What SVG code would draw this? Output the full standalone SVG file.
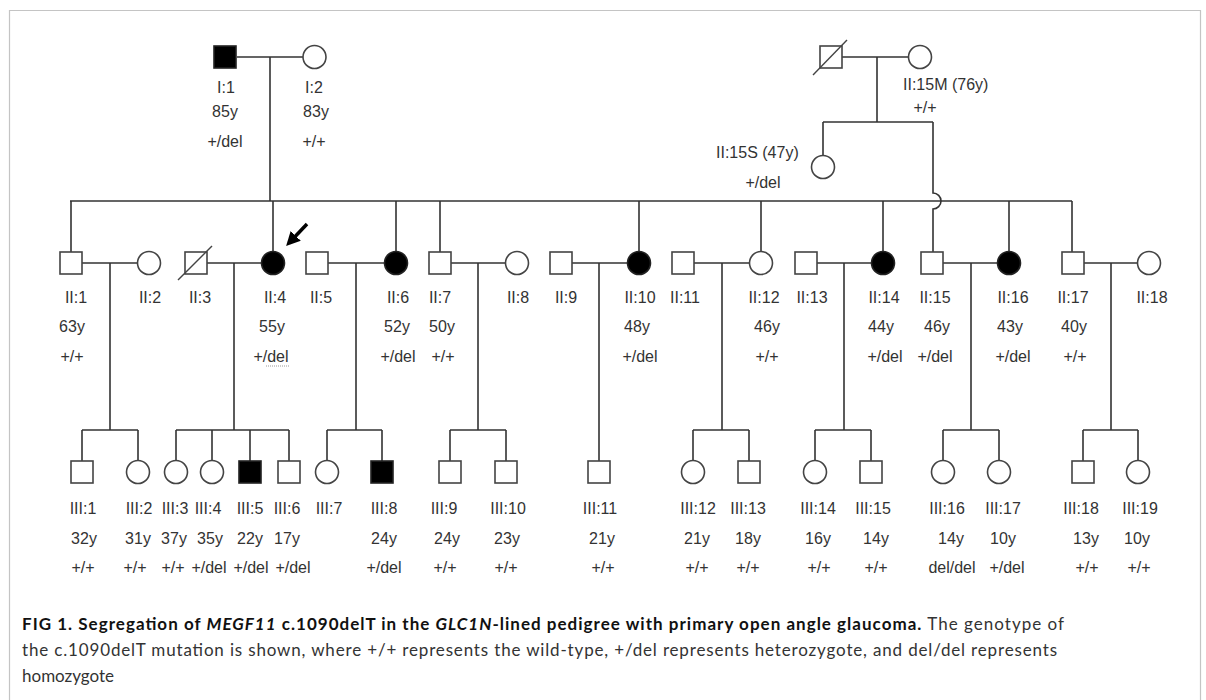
<svg xmlns="http://www.w3.org/2000/svg" width="1206" height="700" viewBox="0 0 1206 700">
<defs>
<style>
.ln{stroke:#333;stroke-width:1.6;fill:none}
.sh{stroke:#444;stroke-width:1.6;fill:#fff}
.af{stroke:#222;stroke-width:1.6;fill:#000}
.dx{stroke:#444;stroke-width:1.4}
.lb{font-family:"Liberation Sans",Arial,sans-serif;font-size:16px;fill:#333;text-anchor:middle}
.lbs{font-family:"Liberation Sans",Arial,sans-serif;font-size:16px;fill:#333}
.cap{font-family:Lato,"Liberation Sans",sans-serif;font-size:17px;fill:#333}
</style>
<marker id="ah" viewBox="0 0 10 10" refX="7" refY="5" markerWidth="4" markerHeight="4" orient="auto" markerUnits="strokeWidth">
<path d="M0,0 L10,5 L0,10 z" fill="#000"/>
</marker>
</defs>
<rect x="0" y="0" width="1206" height="700" fill="#fff"/>
<path d="M9.5,702 V10.5 H1200.5 V702" fill="none" stroke="#c4c4c4" stroke-width="1.2"/>

<g id="connectors">
<path class="ln" d="M237,57 H303 M270,57 V201"/>
<path class="ln" d="M842,57 H908 M877,57 V122 M823,122 H933 M823,122 V155.5"/>
<path class="ln" d="M933,122 V193 A8,8 0 0 1 933,209 V252"/>
<path class="ln" d="M70,201 H1072 M71,201 V252 M273,201 V251.5 M396,201 V251.5 M440,201 V252 M639,201 V251.5 M761,201 V251.5 M883,201 V251.5 M1009,201 V251.5 M1072,201 V252"/>
<path class="ln" d="M82,263 H137.5 M207,263 H261.5 M328,263 H384.5 M451,263 H505.5 M572,263 H627.5 M694,263 H749.5 M817,263 H871.5 M943,263 H997.5 M1084,263 H1137.5"/>
<path class="ln" d="M110,263 V430 M234,263 V430 M356,263 V430 M478,263 V430 M599,263 V461 M722,263 V430 M844,263 V430 M971,263 V430 M1111,263 V430"/>
<path class="ln" d="M82,430 H138 M176,430 H289 M327,430 H382 M450,430 H506 M693,430 H749 M815,430 H871 M943,430 H999 M1083,430 H1138"/>
<path class="ln" d="M82,430 V461 M138,430 V460.5 M176,430 V460.5 M212,430 V460.5 M250,430 V461 M289,430 V461 M327,430 V460.5 M382,430 V461 M450,430 V461 M506,430 V461 M693,430 V460.5 M749,430 V461 M815,430 V460.5 M871,430 V461 M943,430 V460.5 M999,430 V460.5 M1083,430 V461 M1138,430 V460.5"/>
</g>

<g id="I1"><rect class="af" x="214" y="46" width="22" height="22"/>
<text class="lb" x="226" y="93">I:1</text><text class="lb" x="225" y="117">85y</text><text class="lb" x="225" y="147">+/del</text></g>
<g id="I2"><circle class="sh" cx="314.5" cy="57" r="11.5"/>
<text class="lb" x="314" y="93">I:2</text><text class="lb" x="316" y="117">83y</text><text class="lb" x="314" y="147">+/+</text></g>
<g id="II15F"><rect class="sh" x="820" y="46" width="22" height="22"/><line class="dx" x1="813" y1="75" x2="847" y2="40"/></g>
<g id="II15M"><circle class="sh" cx="920" cy="57" r="11.5"/>
<text class="lbs" x="903" y="90">II:15M (76y)</text><text class="lb" x="925" y="113">+/+</text></g>
<g id="II15S"><circle class="sh" cx="823" cy="167" r="11.5"/>
<text class="lbs" x="716" y="158">II:15S (47y)</text><text class="lb" x="763" y="188">+/del</text></g>

<g id="II1"><rect class="sh" x="60" y="252" width="22" height="22"/>
<text class="lb" x="76" y="303">II:1</text><text class="lb" x="72" y="332">63y</text><text class="lb" x="72" y="362">+/+</text></g>
<g id="II2"><circle class="sh" cx="149" cy="263" r="11.5"/><text class="lb" x="150" y="303">II:2</text></g>
<g id="II3"><rect class="sh" x="185" y="252" width="22" height="22"/><line class="dx" x1="178" y1="280" x2="212" y2="246"/><text class="lb" x="200" y="303">II:3</text></g>
<g id="II4"><circle class="af" cx="273" cy="263" r="11.5"/>
<text class="lb" x="275" y="303">II:4</text><text class="lb" x="272" y="332">55y</text><text class="lb" x="271" y="362">+/del</text>
<line x1="266" y1="366" x2="290" y2="366" stroke="#999" stroke-width="1" stroke-dasharray="1,1"/>
<line x1="307" y1="224" x2="289" y2="243" stroke="#000" stroke-width="3.5" marker-end="url(#ah)"/></g>
<g id="II5"><rect class="sh" x="306" y="252" width="22" height="22"/><text class="lb" x="321" y="303">II:5</text></g>
<g id="II6"><circle class="af" cx="396" cy="263" r="11.5"/>
<text class="lb" x="398" y="303">II:6</text><text class="lb" x="397" y="332">52y</text><text class="lb" x="398" y="362">+/del</text></g>
<g id="II7"><rect class="sh" x="429" y="252" width="22" height="22"/>
<text class="lb" x="440" y="303">II:7</text><text class="lb" x="442" y="332">50y</text><text class="lb" x="443" y="362">+/+</text></g>
<g id="II8"><circle class="sh" cx="517" cy="263" r="11.5"/><text class="lb" x="518" y="303">II:8</text></g>
<g id="II9"><rect class="sh" x="550" y="252" width="22" height="22"/><text class="lb" x="566" y="303">II:9</text></g>
<g id="II10"><circle class="af" cx="639" cy="263" r="11.5"/>
<text class="lb" x="640" y="303">II:10</text><text class="lb" x="637" y="332">48y</text><text class="lb" x="640" y="362">+/del</text></g>
<g id="II11"><rect class="sh" x="672" y="252" width="22" height="22"/><text class="lb" x="685" y="303">II:11</text></g>
<g id="II12"><circle class="sh" cx="761" cy="263" r="11.5"/>
<text class="lb" x="764" y="303">II:12</text><text class="lb" x="767" y="332">46y</text><text class="lb" x="767" y="362">+/+</text></g>
<g id="II13"><rect class="sh" x="795" y="252" width="22" height="22"/><text class="lb" x="812" y="303">II:13</text></g>
<g id="II14"><circle class="af" cx="883" cy="263" r="11.5"/>
<text class="lb" x="884" y="303">II:14</text><text class="lb" x="881" y="332">44y</text><text class="lb" x="885" y="362">+/del</text></g>
<g id="II15"><rect class="sh" x="921" y="252" width="22" height="22"/>
<text class="lb" x="935" y="303">II:15</text><text class="lb" x="937" y="332">46y</text><text class="lb" x="935" y="362">+/del</text></g>
<g id="II16"><circle class="af" cx="1009" cy="263" r="11.5"/>
<text class="lb" x="1013" y="303">II:16</text><text class="lb" x="1010" y="332">43y</text><text class="lb" x="1013" y="362">+/del</text></g>
<g id="II17"><rect class="sh" x="1062" y="252" width="22" height="22"/>
<text class="lb" x="1073" y="303">II:17</text><text class="lb" x="1074" y="332">40y</text><text class="lb" x="1075" y="362">+/+</text></g>
<g id="II18"><circle class="sh" cx="1149" cy="263" r="11.5"/><text class="lb" x="1152" y="303">II:18</text></g>

<g id="III1"><rect class="sh" x="71" y="461" width="22" height="22"/>
<text class="lb" x="83" y="514">III:1</text><text class="lb" x="84" y="544">32y</text><text class="lb" x="83" y="573">+/+</text></g>
<g id="III2"><circle class="sh" cx="138" cy="472" r="11.5"/>
<text class="lb" x="139" y="514">III:2</text><text class="lb" x="138" y="544">31y</text><text class="lb" x="135" y="573">+/+</text></g>
<g id="III3"><circle class="sh" cx="176" cy="472" r="11.5"/>
<text class="lb" x="175" y="514">III:3</text><text class="lb" x="174" y="544">37y</text><text class="lb" x="173" y="573">+/+</text></g>
<g id="III4"><circle class="sh" cx="212" cy="472" r="11.5"/>
<text class="lb" x="208" y="514">III:4</text><text class="lb" x="210" y="544">35y</text><text class="lb" x="209" y="573">+/del</text></g>
<g id="III5"><rect class="af" x="239" y="461" width="22" height="22"/>
<text class="lb" x="250" y="514">III:5</text><text class="lb" x="250" y="544">22y</text><text class="lb" x="251" y="573">+/del</text></g>
<g id="III6"><rect class="sh" x="278" y="461" width="22" height="22"/>
<text class="lb" x="287" y="514">III:6</text><text class="lb" x="287" y="544">17y</text><text class="lb" x="293" y="573">+/del</text></g>
<g id="III7"><circle class="sh" cx="327" cy="472" r="11.5"/><text class="lb" x="329" y="514">III:7</text></g>
<g id="III8"><rect class="af" x="371" y="461" width="22" height="22"/>
<text class="lb" x="384" y="514">III:8</text><text class="lb" x="384" y="544">24y</text><text class="lb" x="384" y="573">+/del</text></g>
<g id="III9"><rect class="sh" x="439" y="461" width="22" height="22"/>
<text class="lb" x="444" y="514">III:9</text><text class="lb" x="447" y="544">24y</text><text class="lb" x="445" y="573">+/+</text></g>
<g id="III10"><rect class="sh" x="495" y="461" width="22" height="22"/>
<text class="lb" x="508" y="514">III:10</text><text class="lb" x="507" y="544">23y</text><text class="lb" x="506" y="573">+/+</text></g>
<g id="III11"><rect class="sh" x="588" y="461" width="22" height="22"/>
<text class="lb" x="600" y="514">III:11</text><text class="lb" x="602" y="544">21y</text><text class="lb" x="603" y="573">+/+</text></g>
<g id="III12"><circle class="sh" cx="693" cy="472" r="11.5"/>
<text class="lb" x="698" y="514">III:12</text><text class="lb" x="697" y="544">21y</text><text class="lb" x="697" y="573">+/+</text></g>
<g id="III13"><rect class="sh" x="738" y="461" width="22" height="22"/>
<text class="lb" x="748" y="514">III:13</text><text class="lb" x="748" y="544">18y</text><text class="lb" x="748" y="573">+/+</text></g>
<g id="III14"><circle class="sh" cx="815" cy="472" r="11.5"/>
<text class="lb" x="818" y="514">III:14</text><text class="lb" x="818" y="544">16y</text><text class="lb" x="819" y="573">+/+</text></g>
<g id="III15"><rect class="sh" x="860" y="461" width="22" height="22"/>
<text class="lb" x="873" y="514">III:15</text><text class="lb" x="876" y="544">14y</text><text class="lb" x="876" y="573">+/+</text></g>
<g id="III16"><circle class="sh" cx="943" cy="472" r="11.5"/>
<text class="lb" x="947" y="514">III:16</text><text class="lb" x="951" y="544">14y</text><text class="lb" x="952" y="573">del/del</text></g>
<g id="III17"><circle class="sh" cx="999" cy="472" r="11.5"/>
<text class="lb" x="1003" y="514">III:17</text><text class="lb" x="1003" y="544">10y</text><text class="lb" x="1007" y="573">+/del</text></g>
<g id="III18"><rect class="sh" x="1072" y="461" width="22" height="22"/>
<text class="lb" x="1081" y="514">III:18</text><text class="lb" x="1086" y="544">13y</text><text class="lb" x="1087" y="573">+/+</text></g>
<g id="III19"><circle class="sh" cx="1138" cy="472" r="11.5"/>
<text class="lb" x="1140" y="514">III:19</text><text class="lb" x="1137" y="544">10y</text><text class="lb" x="1139" y="573">+/+</text></g>

<g id="caption">
<text class="cap" x="22" y="630" textLength="1042" lengthAdjust="spacing"><tspan font-weight="bold" fill="#111">FIG 1. Segregation of <tspan font-style="italic">MEGF11</tspan> c.1090delT in the <tspan font-style="italic">GLC1N</tspan>-lined pedigree with primary open angle glaucoma.</tspan> The genotype of</text>
<text class="cap" x="22" y="656" textLength="1035" lengthAdjust="spacing">the c.1090delT mutation is shown, where +/+ represents the wild-type, +/del represents heterozygote, and del/del represents</text>
<text class="cap" x="22" y="682">homozygote</text>
</g>
</svg>
